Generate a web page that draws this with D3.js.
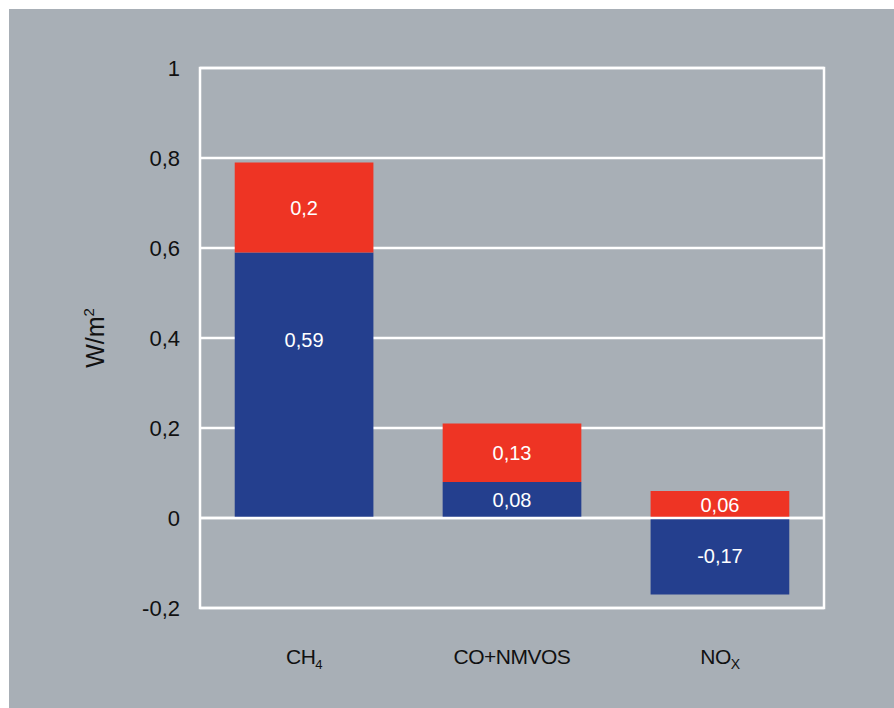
<!DOCTYPE html>
<html>
<head>
<meta charset="utf-8">
<script src="https://cdn.jsdelivr.net/npm/d3@7"></script>
<style>
	body { margin:0; background:#fff; }
	svg { display:block; font-family:"Liberation Sans", Arial, Helvetica, sans-serif; }
</style>
</head>
<body>
<div class="c_chart"></div>
<script>
/*DATA
------------------------------------------------------
*/
const categories = ["CH4", "CO+NMVOS", "NOX"];
const blueValues = [0.59, 0.08, -0.17];
const redValues = [0.2, 0.13, 0.06];
const yTicks = [-0.2, 0, 0.2, 0.4, 0.6, 0.8, 1];

/*SVG, FORMAT
------------------------------------------------------
*/
const width = 894;
const height = 708;
const margin = {top:68, right:70, bottom:100, left:200};

let svg = d3.select(".c_chart")
	.append("svg")
	.attr("width", width)
	.attr("height", height);

//fond gris
svg.append("rect")
	.attr("x", 9).attr("y", 9)
	.attr("width", width - 9).attr("height", height - 9)
	.attr("fill", "#a8afb6");

const fmt = v => d3.format(".2~f")(v).replace(".", ",").replace("−", "-");

let x = d3.scaleBand()
	.domain(categories)
	.range([margin.left, width - margin.right])
	.paddingInner(0.333)
	.paddingOuter(0.167);

let y = d3.scaleLinear()
	.domain([-0.2, 1])
	.range([height - margin.bottom, margin.top]);

/*GRILLE
------------------------------------------------------
*/
svg.append("g")
	.selectAll("line")
	.data(yTicks)
	.enter()
	.append("line")
	.attr("x1", margin.left)
	.attr("x2", width - margin.right)
	.attr("y1", d => y(d))
	.attr("y2", d => y(d))
	.attr("stroke", "#fff")
	.attr("stroke-width", 2.5);

//axe y (labels seulement)
let yAxis = svg.append("g")
	.attr("transform", `translate(${margin.left - 20},0)`)
	.call(d3.axisLeft(y).tickValues(yTicks).tickSize(0).tickPadding(0).tickFormat(d => d === 1 ? "1" : fmt(d)));
yAxis.select(".domain").remove();
yAxis.selectAll("text")
	.attr("font-size", 22)
	.attr("font-family", "Liberation Sans, Arial, sans-serif")
	.attr("fill", "#111");

svg.append("text")
	.attr("transform", `translate(104,${(y(1) + y(-0.2)) / 2}) rotate(-90)`)
	.attr("text-anchor", "middle")
	.attr("font-size", 25)
	.attr("fill", "#111")
	.text("W/m")
	.append("tspan")
	.attr("dy", -10)
	.attr("font-size", 15)
	.text("2");

/*BARRES
------------------------------------------------------
*/
let segments = [];
categories.forEach((c, i) => {
	let b = blueValues[i];
	let r = redValues[i];
	let rBase = Math.max(b, 0);
	segments.push({cat:c, y0:Math.min(b, 0), y1:Math.max(b, 0), v:b, color:"#243f8e"});
	segments.push({cat:c, y0:rBase, y1:rBase + r, v:r, color:"#ee3424"});
});

svg.append("g")
	.selectAll("rect")
	.data(segments)
	.enter()
	.append("rect")
	.attr("x", d => x(d.cat))
	.attr("width", x.bandwidth())
	.attr("y", d => y(d.y1))
	.attr("height", d => y(d.y0) - y(d.y1))
	.attr("fill", d => d.color);

//ligne zéro par-dessus les barres
svg.append("line")
	.attr("x1", margin.left)
	.attr("x2", width - margin.right)
	.attr("y1", y(0))
	.attr("y2", y(0))
	.attr("stroke", "#fff")
	.attr("stroke-width", 2.5);

//cadre
svg.append("rect")
	.attr("x", margin.left)
	.attr("y", margin.top)
	.attr("width", width - margin.left - margin.right)
	.attr("height", height - margin.top - margin.bottom)
	.attr("fill", "none")
	.attr("stroke", "#fff")
	.attr("stroke-width", 2.5);

//étiquettes des valeurs
svg.append("g")
	.selectAll("text")
	.data(segments)
	.enter()
	.append("text")
	.attr("x", d => x(d.cat) + x.bandwidth() / 2)
	.attr("y", d => y(d.y1 - Math.min((d.y1 - d.y0) / 2, 0.195)))
	.attr("dy", "0.36em")
	.attr("text-anchor", "middle")
	.attr("font-size", 20)
	.attr("fill", "#fff")
	.text(d => fmt(d.v));

/*CATEGORIES
------------------------------------------------------
*/
let catLabels = svg.append("g")
	.selectAll("text")
	.data(categories)
	.enter()
	.append("text")
	.attr("x", d => x(d) + x.bandwidth() / 2)
	.attr("y", 664)
	.attr("text-anchor", "middle")
	.attr("font-size", 21)
	.attr("letter-spacing", -0.5)
	.attr("fill", "#111");

catLabels.each(function(d){
	let t = d3.select(this);
	if (d === "CH4") {
		t.append("tspan").text("CH");
		t.append("tspan").attr("dy", 5).attr("font-size", 13).text("4");
	} else if (d === "NOX") {
		t.append("tspan").text("NO");
		t.append("tspan").attr("dy", 5).attr("font-size", 14).text("X");
	} else {
		t.text(d);
	}
});
</script>
</body>
</html>
